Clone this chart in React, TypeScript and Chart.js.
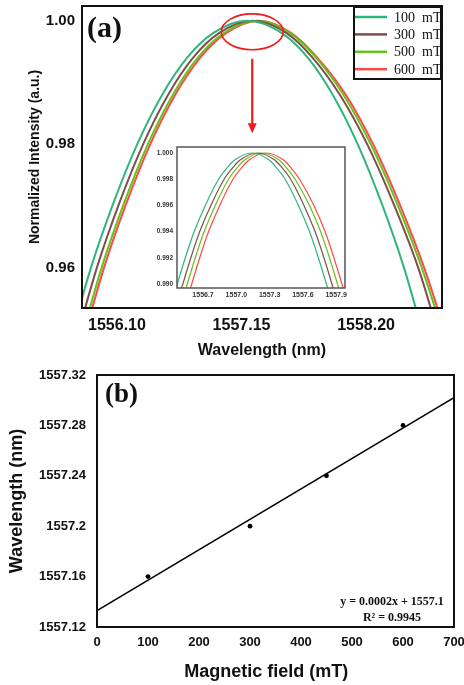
import React, { useEffect, useRef } from 'react';
import { Chart, registerables } from 'chart.js';

Chart.register(...registerables);

// ---------- Panel (a): normalized spectra ----------
const mainLevels = [0.950, 0.960, 0.970, 0.980, 0.988, 0.994, 0.998, 1.000, 0.998, 0.994, 0.988, 0.980, 0.970, 0.960, 0.950];
const mainWl100 = [1555.73, 1555.88, 1556.06, 1556.27, 1556.48, 1556.69, 1556.91, 1557.20, 1557.49, 1557.71, 1557.92, 1558.13, 1558.34, 1558.52, 1558.67];
const mainWl300 = [1555.78, 1555.93, 1556.11, 1556.32, 1556.53, 1556.74, 1556.96, 1557.24, 1557.53, 1557.75, 1557.98, 1558.21, 1558.44, 1558.64, 1558.80];
const mainWl500 = [1555.82, 1555.97, 1556.15, 1556.36, 1556.57, 1556.78, 1557.00, 1557.28, 1557.56, 1557.78, 1558.01, 1558.24, 1558.47, 1558.67, 1558.84];
const mainWl600 = [1555.84, 1555.99, 1556.17, 1556.38, 1556.59, 1556.80, 1557.02, 1557.30, 1557.57, 1557.79, 1558.03, 1558.26, 1558.49, 1558.69, 1558.86];

const insetLevels = [0.9895, 0.992, 0.994, 0.996, 0.998, 0.999, 0.9995, 1.000, 0.9995, 0.999, 0.998, 0.996, 0.994, 0.992, 0.9895];
const insetWl100 = [1556.45, 1556.54, 1556.62, 1556.72, 1556.84, 1556.93, 1556.99, 1557.14, 1557.29, 1557.35, 1557.44, 1557.56, 1557.66, 1557.74, 1557.83];
const insetWl300 = [1556.50, 1556.59, 1556.67, 1556.77, 1556.89, 1556.98, 1557.04, 1557.19, 1557.34, 1557.40, 1557.49, 1557.61, 1557.71, 1557.79, 1557.88];
const insetWl500 = [1556.54, 1556.63, 1556.71, 1556.81, 1556.93, 1557.02, 1557.08, 1557.23, 1557.38, 1557.44, 1557.53, 1557.66, 1557.76, 1557.84, 1557.93];
const insetWl600 = [1556.58, 1556.67, 1556.75, 1556.85, 1556.97, 1557.06, 1557.12, 1557.27, 1557.42, 1557.48, 1557.57, 1557.70, 1557.80, 1557.88, 1557.97];

const seriesLabels = ['100  mT', '300  mT', '500  mT', '600  mT'];
const seriesColors = ['#2fb57c', '#7d4f4b', '#66c21a', '#ff4848'];

const mainXTicks = [1556.10, 1557.15, 1558.20];
const mainYTicks = [0.96, 0.98, 1.00];
const insetXTicks = [1556.7, 1557.0, 1557.3, 1557.6, 1557.9];
const insetYTicks = [0.990, 0.992, 0.994, 0.996, 0.998, 1.000];

// annotation: [centre wavelength, centre intensity, x radius, y radius]
const zoomCircle = [1557.24, 0.99822, 0.261, 0.0029];
const arrowFrom = 0.99385;
const arrowTo = 0.9818;

// ---------- Panel (b): peak wavelength vs field ----------
const fieldValues = [100, 300, 450, 600];
const peakWavelengths = [1557.16, 1557.20, 1557.24, 1557.28];
const fitFields = [0, 700];
const fitWavelengths = [1557.133, 1557.302];
const bYTicks = [1557.12, 1557.16, 1557.20, 1557.24, 1557.28, 1557.32];
const fitEquation = 'y = 0.0002x + 1557.1';
const fitR2 = 'R² = 0.9945';
const bXTitle = 'Magnetic field (mT)';

const SANS = '"Liberation Sans", Arial, sans-serif';
const SERIF = '"Liberation Serif", "Times New Roman", serif';

const noPad = (s: any) => {
  s.paddingTop = 0;
  s.paddingBottom = 0;
  s.paddingLeft = 0;
  s.paddingRight = 0;
};

const framePlugin = (color: string, width: number) => ({
  id: 'frame',
  afterDatasetsDraw(chart: any) {
    const { ctx, chartArea: a } = chart;
    ctx.save();
    ctx.strokeStyle = color;
    ctx.lineWidth = width;
    ctx.strokeRect(a.left, a.top, a.right - a.left, a.bottom - a.top);
    ctx.restore();
  },
});

const legendPlugin = {
  id: 'boxLegend',
  afterDraw(chart: any) {
    const { ctx, chartArea: a } = chart;
    const bx = a.right - 88, by = a.top + 1, bw = 87, bh = 72;
    ctx.save();
    ctx.fillStyle = '#fff';
    ctx.fillRect(bx, by, bw, bh);
    ctx.strokeStyle = '#111';
    ctx.lineWidth = 2;
    ctx.strokeRect(bx, by, bw, bh);
    chart.data.datasets.forEach((ds: any, i: number) => {
      const ry = by + 10 + i * 17.4;
      ctx.strokeStyle = ds.borderColor;
      ctx.lineWidth = 2.5;
      ctx.beginPath();
      ctx.moveTo(bx + 1, ry);
      ctx.lineTo(bx + 33, ry);
      ctx.stroke();
      ctx.fillStyle = '#111';
      ctx.font = '14px ' + SERIF;
      ctx.textAlign = 'left';
      ctx.textBaseline = 'middle';
      ctx.fillText(ds.label, bx + 40, ry + 1);
    });
    ctx.restore();
  },
};

const annotPlugin = {
  id: 'annot',
  afterDatasetsDraw(chart: any) {
    const { ctx, chartArea, scales } = chart;
    const x = scales.x, y = scales.y;
    ctx.save();
    const cx = x.getPixelForValue(zoomCircle[0]);
    const cy = y.getPixelForValue(zoomCircle[1]);
    const rx = Math.abs(x.getPixelForValue(zoomCircle[0] + zoomCircle[2]) - cx);
    const ry = Math.abs(y.getPixelForValue(zoomCircle[1] + zoomCircle[3]) - cy);
    ctx.strokeStyle = '#ee1c1c';
    ctx.lineWidth = 1.6;
    ctx.beginPath();
    ctx.ellipse(cx, cy, rx, ry, 0, 0, Math.PI * 2);
    ctx.stroke();
    const ay1 = y.getPixelForValue(arrowFrom);
    const ay2 = y.getPixelForValue(arrowTo);
    ctx.lineWidth = 2.2;
    ctx.beginPath();
    ctx.moveTo(cx, ay1);
    ctx.lineTo(cx, ay2 - 8);
    ctx.stroke();
    ctx.fillStyle = '#ee1c1c';
    ctx.beginPath();
    ctx.moveTo(cx - 4.5, ay2 - 10);
    ctx.lineTo(cx + 4.5, ay2 - 10);
    ctx.lineTo(cx, ay2);
    ctx.closePath();
    ctx.fill();
    ctx.fillStyle = '#111';
    ctx.font = 'bold 30px ' + SERIF;
    ctx.textAlign = 'left';
    ctx.textBaseline = 'middle';
    ctx.fillText('(a)', chartArea.left + 5, chartArea.top + 23);
    ctx.restore();
  },
};

const bTextPlugin = {
  id: 'btext',
  afterDraw(chart: any) {
    const { ctx, chartArea: a } = chart;
    ctx.save();
    ctx.fillStyle = '#111';
    ctx.font = 'bold 27px ' + SERIF;
    ctx.textAlign = 'left';
    ctx.textBaseline = 'middle';
    ctx.fillText('(b)', a.left + 8, a.top + 20);
    ctx.font = 'bold 12px ' + SERIF;
    ctx.textAlign = 'center';
    ctx.fillText(fitEquation, a.right - 62, a.bottom - 25);
    ctx.fillText(fitR2, a.right - 62, a.bottom - 9);
    ctx.font = 'bold 18px ' + SANS;
    ctx.fillText(bXTitle, a.left + (a.right - a.left) * 0.474, a.bottom + 45);
    ctx.restore();
  },
};

function App() {
  const mainRef = useRef<HTMLCanvasElement>(null);
  const insetRef = useRef<HTMLCanvasElement>(null);
  const bRef = useRef<HTMLCanvasElement>(null);

  useEffect(() => {
    const mainSeries = [mainWl100, mainWl300, mainWl500, mainWl600];
    const insetSeries = [insetWl100, insetWl300, insetWl500, insetWl600];
    const tickFont = (size: number) => ({ family: SANS, weight: 'bold' as const, size });

    const main = new Chart(mainRef.current!, {
      type: 'line',
      data: {
        datasets: seriesLabels.map((label, i) => ({
          label,
          data: mainSeries[i].map((xv, j) => ({ x: xv, y: mainLevels[j] })),
          borderColor: seriesColors[i],
          backgroundColor: seriesColors[i],
          borderWidth: 2,
          pointRadius: 0,
          cubicInterpolationMode: 'monotone' as const,
          clip: 0,
        })),
      },
      options: {
        responsive: false,
        animation: false,
        devicePixelRatio: 1,
        layout: { padding: { top: 6, right: 22, left: 0, bottom: 0 } },
        plugins: { legend: { display: false }, tooltip: { enabled: false } },
        scales: {
          x: {
            type: 'linear',
            min: 1555.805,
            max: 1558.84,
            grid: { display: false, drawTicks: false },
            border: { display: false },
            afterBuildTicks: (s: any) => { s.ticks = mainXTicks.map((v) => ({ value: v })); },
            afterFit: (s: any) => { s.height = 57; noPad(s); },
            ticks: { padding: 8, color: '#111', font: tickFont(16), maxRotation: 0, autoSkip: false, callback: (v: any) => Number(v).toFixed(2) },
            title: { display: true, text: 'Wavelength (nm)', color: '#111', font: tickFont(16), padding: { top: 0, bottom: 5 } },
          },
          y: {
            type: 'linear',
            min: 0.9535,
            max: 1.0024,
            grid: { display: false, drawTicks: false },
            border: { display: false },
            afterBuildTicks: (s: any) => { s.ticks = mainYTicks.map((v) => ({ value: v })); },
            afterFit: (s: any) => { s.width = 82; noPad(s); },
            ticks: { padding: 7, color: '#111', font: tickFont(15), autoSkip: false, callback: (v: any) => Number(v).toFixed(2) },
            title: { display: true, text: 'Normalized Intensity (a.u.)', color: '#111', font: tickFont(14), padding: { top: 27, bottom: 0 } },
          },
        },
      },
      plugins: [framePlugin('#111', 2), annotPlugin, legendPlugin],
    });

    const inset = new Chart(insetRef.current!, {
      type: 'line',
      data: {
        datasets: seriesLabels.map((label, i) => ({
          label,
          data: insetSeries[i].map((xv, j) => ({ x: xv, y: insetLevels[j] })),
          borderColor: seriesColors[i],
          borderWidth: 1.2,
          pointRadius: 0,
          cubicInterpolationMode: 'monotone' as const,
          clip: 0,
        })),
      },
      options: {
        responsive: false,
        animation: false,
        devicePixelRatio: 1,
        layout: { padding: { top: 7, right: 10, left: 0, bottom: 0 } },
        plugins: { legend: { display: false }, tooltip: { enabled: false } },
        scales: {
          x: {
            type: 'linear',
            min: 1556.465,
            max: 1557.98,
            grid: { display: false, drawTicks: false },
            border: { display: false },
            afterBuildTicks: (s: any) => { s.ticks = insetXTicks.map((v) => ({ value: v })); },
            afterFit: (s: any) => { s.height = 22; noPad(s); },
            ticks: { padding: 3, color: '#333', font: tickFont(7), maxRotation: 0, autoSkip: false, callback: (v: any) => Number(v).toFixed(1) },
          },
          y: {
            type: 'linear',
            min: 0.98969,
            max: 1.00046,
            grid: { display: false, drawTicks: false },
            border: { display: false },
            afterBuildTicks: (s: any) => { s.ticks = insetYTicks.map((v) => ({ value: v })); },
            afterFit: (s: any) => { s.width = 32; noPad(s); },
            ticks: { padding: 4, color: '#333', font: tickFont(6.5), autoSkip: false, callback: (v: any) => Number(v).toFixed(3) },
          },
        },
      },
      plugins: [framePlugin('#555', 1.5)],
    });

    const b = new Chart(bRef.current!, {
      type: 'scatter',
      data: {
        datasets: [
          {
            label: 'Peak wavelength',
            data: fieldValues.map((xv, i) => ({ x: xv, y: peakWavelengths[i] })),
            pointRadius: 2.4,
            pointBackgroundColor: '#000',
            pointBorderColor: '#000',
            borderWidth: 0,
          },
          {
            label: 'Linear fit',
            data: fitFields.map((xv, i) => ({ x: xv, y: fitWavelengths[i] })),
            showLine: true,
            borderColor: '#000',
            borderWidth: 1.6,
            pointRadius: 0,
            clip: 0,
          },
        ],
      },
      options: {
        responsive: false,
        animation: false,
        devicePixelRatio: 1,
        layout: { padding: { top: 10, right: 10, left: 0, bottom: 0 } },
        plugins: { legend: { display: false }, tooltip: { enabled: false } },
        scales: {
          x: {
            type: 'linear',
            min: 0,
            max: 700,
            grid: { display: false, drawTicks: false },
            border: { display: false },
            afterFit: (s: any) => { s.height = 58; noPad(s); },
            ticks: { stepSize: 100, padding: 8, color: '#111', font: tickFont(13), maxRotation: 0, autoSkip: false },
          },
          y: {
            type: 'linear',
            min: 1557.12,
            max: 1557.32,
            grid: { display: false, drawTicks: false },
            border: { display: false },
            afterBuildTicks: (s: any) => { s.ticks = bYTicks.map((v) => ({ value: v })); },
            afterFit: (s: any) => { s.width = 97; noPad(s); },
            ticks: { padding: 11, color: '#111', font: tickFont(13), autoSkip: false, callback: (v: any) => String(Number(Number(v).toFixed(2))) },
            title: { display: true, text: 'Wavelength (nm)', color: '#111', font: tickFont(18), padding: { top: 6, bottom: 0 } },
          },
        },
      },
      plugins: [framePlugin('#111', 2), bTextPlugin],
    });

    return () => {
      main.destroy();
      inset.destroy();
      b.destroy();
    };
  }, []);

  return (
    <div style={{ position: 'absolute', left: 0, top: 0, width: 464, height: 685, background: '#fff', overflow: 'hidden' }}>
      <canvas ref={mainRef} width={464} height={365} style={{ position: 'absolute', left: 0, top: 0 }} />
      <canvas ref={insetRef} width={210} height={170} style={{ position: 'absolute', left: 145, top: 140 }} />
      <canvas ref={bRef} width={464} height={320} style={{ position: 'absolute', left: 0, top: 365 }} />
    </div>
  );
}

export default App;
